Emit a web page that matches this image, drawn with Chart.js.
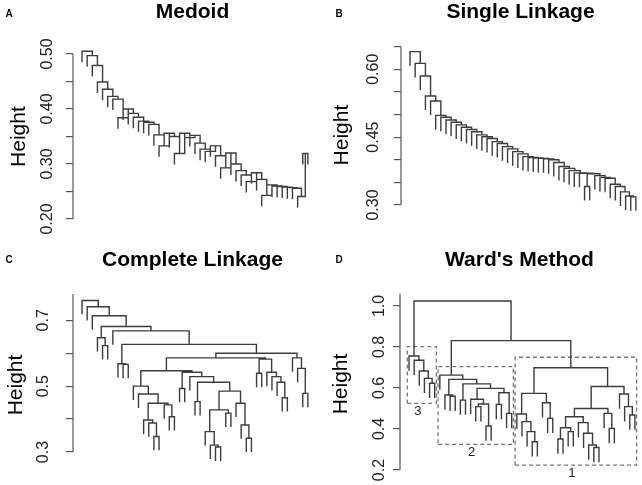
<!DOCTYPE html>
<html>
<head>
<meta charset="utf-8">
<script src="https://cdn.jsdelivr.net/npm/chart.js@4.4.1/dist/chart.umd.min.js"></script>
<style>
  html, body { margin: 0; padding: 0; background: #fff; }
  body { width: 642px; height: 485px; position: relative; overflow: hidden; }
  canvas { position: absolute; }
</style>
</head>
<body>
<canvas id="panelA" width="321" height="242" style="left:0;top:0"></canvas>
<canvas id="panelB" width="321" height="242" style="left:321px;top:0"></canvas>
<canvas id="panelC" width="321" height="245" style="left:0;top:240px"></canvas>
<canvas id="panelD" width="321" height="245" style="left:321px;top:240px"></canvas>
<script>
// merge heights. a tree node is [height, left, right], 0 is a leaf
var medoidHeights = [0.505, 0.497, 0.479, 0.449, 0.436, 0.423, 0.418, 0.384, 0.400, 0.392,
  0.385, 0.378, 0.376, 0.372, 0.353, 0.333, 0.356, 0.350, 0.319, 0.356,
  0.348, 0.352, 0.338, 0.327, 0.323, 0.333, 0.315, 0.293, 0.320, 0.300,
  0.288, 0.280, 0.268, 0.284, 0.272, 0.243, 0.262, 0.260, 0.259, 0.258,
  0.257, 0.256, 0.241, 0.319];

var singleSteps = [0.639, 0.613, 0.585, 0.541, 0.530, 0.498, 0.494, 0.488, 0.483, 0.477,
  0.472, 0.467, 0.462, 0.455, 0.451, 0.447, 0.440, 0.436, 0.429, 0.424,
  0.418, 0.413, 0.407, 0.405, 0.404, 0.403, 0.402, 0.400, 0.394, 0.385,
  0.381, 0.376, 0.371, 0.370, [0.369, [0.341, 0, 0]], 0.365, 0.361, 0.359, 0.346, 0.341,
  0.329, 0.320, 0.318];

var completeLeft = [0.500, 0, [0.476, 0, [0.448, [0.397, 0, [0.388, 0, [0.347, 0, 0]]], [0.443, 0, [0.407, 0, 0]]]]];
var completeMid = [0.542, [0.493, 0, 0], [0.529, 0, [0.512, [0.453, 0, 0],
  [0.485, [0.428, [0.362, 0, [0.321, 0, [0.315, 0, 0]]], [0.418, 0, 0]], [0.448, 0, [0.382, 0, [0.342, 0, 0]]]]]]];
var completeRight = [0.600,
  [0.586, [0.547, completeLeft, completeMid],
    [0.582, [0.539, 0, 0], [0.542, 0, [0.529, 0, [0.512, 0, [0.465, 0, 0]]]]]],
  [0.586, 0, [0.554, 0, [0.478, 0, 0]]]];
var completeTree = [0.760, 0, [0.741, 0, [0.714, 0, [0.681,
  [0.647, 0, [0.623, 0, 0]],
  [0.668, 0, [0.627, [0.568, 0, [0.566, 0, 0]], completeRight]]]]]];

var wardC3 = [0.756, 0, [0.735, 0, [0.683, 0, [0.647, 0, [0.623, 0, 0]]]]];
var wardC2 = [0.663, 0, [0.642, [0.566, 0, [0.560, 0, 0]],
  [0.620, [0.541, 0, 0], [0.598, [0.545, 0, [0.522, [0.509, 0, 0], [0.415, 0, 0]]], [0.577, [0.520, 0, 0], [0.476, 0, 0]]]]]];
var wardC1 = [0.699,
  [0.574, [0.473, 0, [0.436, 0, [0.387, 0, [0.338, 0, 0]]]], [0.528, 0, [0.452, 0, 0]]],
  [0.607,
    [0.500, [0.460, [0.406, [0.351, 0, 0], [0.387, 0, 0]], [0.431, 0, [0.379, 0, [0.322, 0, [0.310, 0, 0]]]]], [0.476, 0, [0.403, 0, 0]]],
    [0.571, 0, [0.509, 0, [0.468, 0, 0]]]]];
var wardTree = [1.024, wardC3, [0.831, wardC2, wardC1]];

var wardBoxSizes = [6, 15, 24];
var wardBoxTop = [0.802, 0.704, 0.750];
var wardBoxBottom = [0.525, 0.325, 0.224];
var wardBoxLabels = ["3", "2", "1"];

var medoidTicks = [0.20, 0.25, 0.30, 0.35, 0.40, 0.45, 0.50];
var medoidLabels = ["0.20", "0.30", "0.40", "0.50"];
var singleTicks = [0.30, 0.35, 0.40, 0.45, 0.50, 0.55, 0.60, 0.65];
var singleLabels = ["0.30", "0.45", "0.60"];
var completeTicks = [0.3, 0.4, 0.5, 0.6, 0.7];
var completeLabels = ["0.3", "0.5", "0.7"];
var wardTicks = [0.2, 0.4, 0.6, 0.8, 1.0];
var wardLabels = ["0.2", "0.4", "0.6", "0.8", "1.0"];

var FONT = "'Liberation Sans', Arial, Helvetica, sans-serif";
Chart.defaults.font.family = FONT;

function chain(steps) {
  var node = [steps[steps.length - 1], 0, 0];
  for (var i = steps.length - 2; i >= 0; i--) {
    var s = steps[i];
    node = typeof s === "number" ? [s, 0, node] : [s[0], s[1], node];
  }
  return node;
}

// walk the tree, leaves get x = 1..n, each merge is one U shape
function dendroPoints(tree, hang) {
  var pts = [];
  var next = 1;
  function walk(n) {
    if (n === 0) return { x: next++, y: null };
    var l = walk(n[1]), r = walk(n[2]), h = n[0];
    var ly = l.y === null ? h - hang : l.y;
    var ry = r.y === null ? h - hang : r.y;
    pts.push({ x: l.x, y: ly }, { x: l.x, y: h }, { x: r.x, y: h }, { x: r.x, y: ry }, { x: r.x, y: null });
    return { x: (l.x + r.x) / 2, y: h };
  }
  walk(tree);
  return pts;
}

function boxPoints() {
  var pts = [], start = 0;
  wardBoxSizes.forEach(function (n, i) {
    var x0 = start + 0.66, x1 = start + n + 0.33;
    pts.push({ x: x0, y: wardBoxBottom[i] }, { x: x1, y: wardBoxBottom[i] }, { x: x1, y: wardBoxTop[i] },
      { x: x0, y: wardBoxTop[i] }, { x: x0, y: wardBoxBottom[i] }, { x: x0, y: null });
    start += n;
  });
  return pts;
}

function makePanel(id, p) {
  var datasets = [{
    data: dendroPoints(p.tree, p.hang),
    borderColor: "#3c3c3c",
    borderWidth: 1.4,
    pointRadius: 0,
    spanGaps: false,
    clip: false
  }];
  if (p.boxes) {
    datasets.push({
      data: boxPoints(),
      borderColor: "#777",
      borderWidth: 1.3,
      borderDash: [4, 3],
      pointRadius: 0,
      spanGaps: false,
      clip: false
    });
  }
  var decor = {
    id: "decor" + id,
    afterDraw: function (chart) {
      var ctx = chart.ctx, ys = chart.scales.y, xs = chart.scales.x;
      var ax = chart.chartArea.left;
      ctx.save();
      ctx.strokeStyle = "#555";
      ctx.lineWidth = 1.2;
      ctx.beginPath();
      ctx.moveTo(ax, ys.getPixelForValue(p.ticks[0]));
      ctx.lineTo(ax, ys.getPixelForValue(p.axisTop));
      ctx.stroke();
      ctx.fillStyle = "#222";
      ctx.font = "16px " + FONT;
      ctx.textAlign = "center";
      ctx.textBaseline = "middle";
      p.labels.forEach(function (t) {
        ctx.save();
        ctx.translate(ax + p.labelOffset, ys.getPixelForValue(parseFloat(t)));
        ctx.rotate(-Math.PI / 2);
        ctx.fillText(t, 0, 0);
        ctx.restore();
      });
      ctx.fillStyle = "#000";
      ctx.font = "bold 10px " + FONT;
      ctx.fillText(p.letter, p.letterX, p.letterY);
      if (p.boxes) {
        ctx.fillStyle = "#222";
        ctx.font = "13px " + FONT;
        ctx.textBaseline = "top";
        var start = 0;
        wardBoxSizes.forEach(function (n, i) {
          var cx = xs.getPixelForValue(start + (n + 1) / 2 - 0.005);
          ctx.fillText(wardBoxLabels[i], cx - 4, ys.getPixelForValue(wardBoxBottom[i]) + 2);
          start += n;
        });
      }
      ctx.restore();
    }
  };
  return new Chart(document.getElementById(id), {
    type: "line",
    data: { datasets: datasets },
    plugins: [decor],
    options: {
      responsive: false,
      animation: false,
      events: [],
      layout: { padding: { left: 0, top: 0, right: p.padRight, bottom: p.padBottom } },
      plugins: {
        legend: { display: false },
        tooltip: { enabled: false },
        title: {
          display: true,
          text: p.title,
          fullSize: false,
          color: "#000",
          font: { size: 21, weight: "bold" },
          padding: { top: p.titleTop, bottom: p.titleBottom }
        }
      },
      scales: {
        x: { type: "linear", display: false, min: -0.76, max: 45.8 },
        y: {
          type: "linear",
          position: "left",
          min: p.yMin,
          max: p.yMax,
          afterBuildTicks: function (s) {
            s.ticks = p.ticks.map(function (v) { return { value: v }; });
          },
          afterFit: function (s) { s.width = p.axisX; },
          ticks: { display: false },
          border: { display: false },
          grid: { drawOnChartArea: false, drawTicks: true, tickLength: 7, color: "#555", lineWidth: 1.2 },
          title: {
            display: true,
            text: "Height",
            color: "#000",
            font: { size: 21 },
            padding: { top: p.heightPad, bottom: 0 }
          }
        }
      }
    }
  });
}

makePanel("panelA", {
  tree: chain(medoidHeights), hang: 0.02, title: "Medoid", letter: "A", letterX: 9, letterY: 14,
  ticks: medoidTicks, labels: medoidLabels, axisTop: 0.50, labelOffset: -25.5,
  axisX: 73, padRight: 9, padBottom: 9, titleTop: 0, titleBottom: 15,
  yMin: 0.1745, yMax: 0.5251, heightPad: 6.4
});
makePanel("panelB", {
  tree: chain(singleSteps), hang: 0.031, title: "Single Linkage", letter: "B", letterX: 18, letterY: 14,
  ticks: singleTicks, labels: singleLabels, axisTop: 0.65, labelOffset: -27.5,
  axisX: 80, padRight: 2, padBottom: 12, titleTop: 0, titleBottom: 15,
  yMin: 0.2447, yMax: 0.6643, heightPad: 9.1
});
makePanel("panelC", {
  tree: completeTree, hang: 0.042, title: "Complete Linkage", letter: "C", letterX: 9, letterY: 20,
  ticks: completeTicks, labels: completeLabels, axisTop: 0.78, labelOffset: -29.5,
  axisX: 73, padRight: 9, padBottom: 5, titleTop: 8.1, titleBottom: 16.7,
  yMin: 0.215, yMax: 0.792, heightPad: 4.1
});
makePanel("panelD", {
  tree: wardTree, hang: 0.072, title: "Ward's Method", letter: "D", letterX: 18, letterY: 20,
  ticks: wardTicks, labels: wardLabels, axisTop: 1.06, labelOffset: -20.5,
  axisX: 79, padRight: 3, padBottom: 7, titleTop: 8.1, titleBottom: 16.7,
  yMin: 0.161, yMax: 1.078, heightPad: 7.4, boxes: true
});
</script>
</body>
</html>
